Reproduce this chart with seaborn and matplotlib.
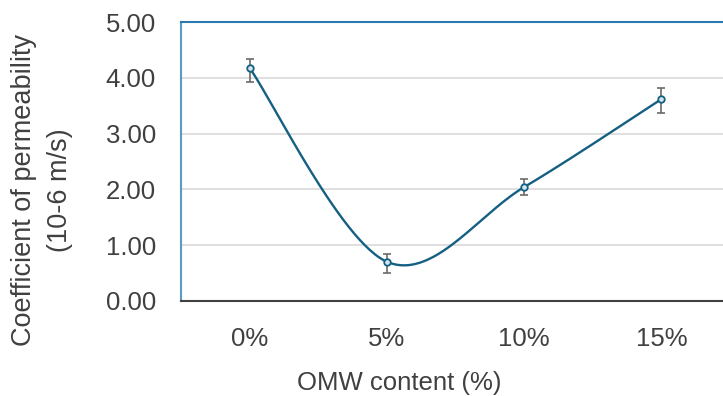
import numpy as np
import matplotlib
matplotlib.use('Agg')
import matplotlib.pyplot as plt
import seaborn as sns

# Data
categories = ['0%', '5%', '10%', '15%']
permeability = [4.18, 0.70, 2.04, 3.62]
err_low = [0.25, 0.20, 0.14, 0.25]
err_high = [0.16, 0.14, 0.14, 0.20]

sns.set_style('white')
plt.rcParams['font.family'] = ['Liberation Sans', 'DejaVu Sans']

line_color = '#156082'
text_color = '#404040'

fig = plt.figure(figsize=(7.23, 3.96), dpi=100)
ax = fig.add_axes([181 / 723, 95.3 / 396, 549 / 723, 278.4 / 396])

x = np.arange(len(categories))
y = np.array(permeability)

# Excel-style smoothed line (Bezier through the points)
pts = np.column_stack([x, y]).astype(float)
ext = np.vstack([pts[0], pts, pts[-1]])
curve = []
t = np.linspace(0, 1, 60)[:, None]
for i in range(len(pts) - 1):
    p0, p1, p2, p3 = ext[i], ext[i + 1], ext[i + 2], ext[i + 3]
    c1 = p1 + (p2 - p0) / 6
    c2 = p2 - (p3 - p1) / 6
    seg = ((1 - t) ** 3) * p1 + 3 * ((1 - t) ** 2) * t * c1 + 3 * (1 - t) * t ** 2 * c2 + t ** 3 * p2
    curve.append(seg)
curve = np.vstack(curve)

sns.lineplot(x=curve[:, 0], y=curve[:, 1], ax=ax, color=line_color, lw=1.7, sort=False)
ax.errorbar(x, y, yerr=[err_low, err_high], fmt='none', ecolor='#6b6b6b',
            elinewidth=1.2, capsize=3, capthick=1.2, zorder=3)
sns.scatterplot(x=x, y=y, ax=ax, marker='o', s=22, color='#d6e4ee',
                edgecolor=line_color, linewidth=1.3, zorder=4)

ax.set_xlim(-0.5, 3.5)
ax.set_ylim(0, 5)
ax.set_yticks([0, 1, 2, 3, 4, 5])
ax.set_yticklabels(['0.00', '1.00', '2.00', '3.00', '4.00', '5.00'])
ax.set_xticks(x)
ax.set_xticklabels(categories)
ax.set_xticks([-0.5, 0.5, 1.5, 2.5, 3.5], minor=True)

ax.grid(axis='y', color='#d9d9d9', lw=1.2)
ax.set_axisbelow(True)

ax.tick_params(axis='y', length=0, pad=18, labelsize=18.5, labelcolor=text_color)
ax.tick_params(axis='x', which='major', direction='in', length=6, width=1.3,
               color='#404040', pad=19, labelsize=18.5, labelcolor=text_color)
ax.tick_params(axis='x', which='minor', direction='in', length=9, width=1.3,
               color='#404040')

ax.spines['bottom'].set_color('#404040')
ax.spines['bottom'].set_linewidth(1.5)
ax.spines['left'].set_color('#5a9bc0')
ax.spines['left'].set_linewidth(1.5)
ax.spines['top'].set_color('#2a7ab0')
ax.spines['top'].set_linewidth(1.5)
ax.spines['right'].set_visible(False)

ax.set_xlabel('OMW content (%)', fontsize=18.5, color=text_color)
ax.xaxis.set_label_coords((399 - 181) / 549, -(383 - 300.7) / 278.4)
ax.xaxis.label.set_va('center')
ax.set_ylabel('Coefficient of permeability\n(10-6 m/s)', fontsize=19.5,
              color=text_color, linespacing=1.5)
ax.yaxis.set_label_coords(-(181 - 42) / 549, (300.7 - 190) / 278.4)
ax.yaxis.label.set_va('center')

fig.savefig('out.png', dpi=100)
